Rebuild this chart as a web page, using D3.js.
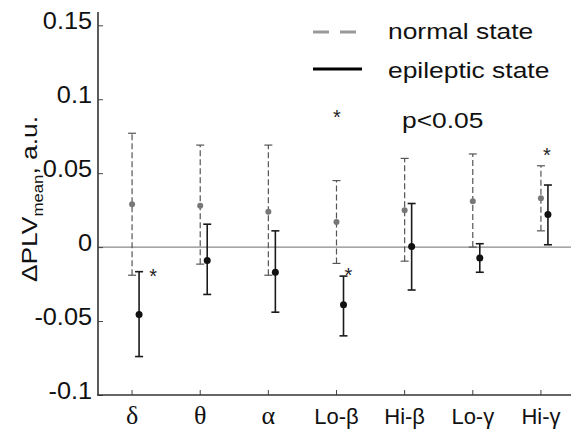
<!DOCTYPE html>
<html>
<head>
<meta charset="utf-8">
<script src="https://cdn.jsdelivr.net/npm/d3@7"></script>
<style>
  body { margin: 0; background: #fff; }
  svg { display: block; font-family: 'Liberation Sans', Arial, sans-serif; }
</style>
</head>
<body>
<div class="svg-container"></div>
<script>
// frequency bands on the x axis
var bands = ['δ', 'θ', 'α', 'Lo-β', 'Hi-β', 'Lo-γ', 'Hi-γ'];

// normal state: mean and error bar ends
var normalMean = [0.029, 0.028, 0.024, 0.017, 0.025, 0.031, 0.033];
var normalLow  = [-0.019, -0.0115, -0.019, -0.011, -0.0095, 0.0, 0.011];
var normalHigh = [0.077, 0.069, 0.069, 0.045, 0.060, 0.063, 0.055];

// epileptic state: mean and error bar ends
var epiMean = [-0.0455, -0.009, -0.017, -0.039, 0.0005, -0.0074, 0.022];
var epiLow  = [-0.074, -0.032, -0.044, -0.060, -0.029, -0.017, 0.0016];
var epiHigh = [-0.0166, 0.0155, 0.011, -0.0196, 0.0295, 0.0023, 0.042];

// bands marked significant (p<0.05)
var sigBands = ['δ', 'Lo-β', 'Hi-γ'];

var yTicks = [-0.1, -0.05, 0, 0.05, 0.1, 0.15];
var yTickLabels = ['-0.1', '-0.05', '0', '0.05', '0.1', '0.15'];

var W = 571, H = 436;

var svg = d3.select('.svg-container').append('svg')
  .attr('width', W)
  .attr('height', H);

var x = d3.scaleBand()
  .domain(bands)
  .range([98, 575])
  .padding(0);

var y = d3.scaleLinear()
  .domain([-0.1, 0.159])
  .range([395, 12]);

function cx(b) { return x(b) + x.bandwidth() / 2; }

var epiShift = 7;

// zero line
svg.append('line')
  .attr('x1', 98).attr('x2', W)
  .attr('y1', y(0)).attr('y2', y(0))
  .style('stroke', '#8a8a8a')
  .style('stroke-width', 1.2);

// y axis
var yAxis = svg.append('g')
  .attr('transform', 'translate(98,0)')
  .call(d3.axisLeft(y)
    .tickValues(yTicks)
    .tickSize(-5)
    .tickPadding(6)
    .tickFormat(function (d, i) { return yTickLabels[i]; }));

yAxis.select('.domain').remove();
yAxis.selectAll('.tick line').style('stroke', '#444');
yAxis.selectAll('text')
  .style('font-size', '23px')
  .style('fill', '#111')
  .attr('x', -6 / 1.1)
  .attr('y', -4)
  .attr('transform', 'scale(1.1,1)');

// x axis
var xAxis = svg.append('g')
  .attr('transform', 'translate(0,395)')
  .call(d3.axisBottom(x)
    .tickSize(-5)
    .tickPadding(13));

xAxis.select('.domain').remove();
xAxis.selectAll('.tick line').style('stroke', '#444');
xAxis.selectAll('text')
  .style('fill', '#111')
  .style('font-size', function (d) { return d.length === 1 ? '26px' : '22px'; })
  .style('font-family', function (d) {
    return d.length === 1 ? "'Liberation Serif', serif" : "'Liberation Sans', Arial, sans-serif";
  })
  .attr('y', function (d) { return d.length === 1 ? 11 : 13; });

// axis lines
svg.append('line')
  .attr('x1', 98).attr('x2', 98)
  .attr('y1', y(0.159)).attr('y2', 395)
  .style('stroke', '#333').style('stroke-width', 1.6);
svg.append('line')
  .attr('x1', 97).attr('x2', W)
  .attr('y1', 395).attr('y2', 395)
  .style('stroke', '#333').style('stroke-width', 1.6);

// y label
var ylab = svg.append('text')
  .attr('transform', 'translate(37,199) rotate(-90) scale(1.2,1)')
  .attr('text-anchor', 'middle')
  .style('font-size', '22px')
  .style('fill', '#111');
ylab.append('tspan').text('ΔPLV');
ylab.append('tspan').attr('dy', 6).style('font-size', '14px').text('mean');
ylab.append('tspan').attr('dy', -6).text(', a.u.');

// error bars
function drawBars(cls, means, lows, highs, shift, opts) {
  var rows = bands.map(function (b, i) {
    return { band: b, mean: means[i], low: lows[i], high: highs[i] };
  });

  var g = svg.selectAll('g.' + cls)
    .data(rows)
    .enter()
    .append('g')
    .attr('class', cls)
    .attr('transform', function (d) { return 'translate(' + (cx(d.band) + shift) + ',0)'; });

  g.append('line')
    .attr('y1', function (d) { return y(d.low); })
    .attr('y2', function (d) { return y(d.high); })
    .style('stroke', opts.color)
    .style('stroke-width', opts.width)
    .style('stroke-dasharray', opts.dash);

  ['low', 'high'].forEach(function (k) {
    g.append('line')
      .attr('x1', -4).attr('x2', 4)
      .attr('y1', function (d) { return y(d[k]); })
      .attr('y2', function (d) { return y(d[k]); })
      .style('stroke', opts.color)
      .style('stroke-width', opts.width);
  });

  g.append('circle')
    .attr('cy', function (d) { return y(d.mean); })
    .attr('r', opts.r)
    .style('fill', opts.dot);
}

drawBars('normal', normalMean, normalLow, normalHigh, 0,
  { color: '#555', width: 1.2, dash: '6,3', r: 3, dot: '#777' });
drawBars('epi', epiMean, epiLow, epiHigh, epiShift,
  { color: '#1a1a1a', width: 1.6, dash: null, r: 3.5, dot: '#111' });

// significance stars
var starPlace = {
  'δ':    { dx: 21, v: function (i) { return y(epiHigh[i]); } },
  'Lo-β': { dx: 12, v: function (i) { return y(epiHigh[i]) - 5; } },
  'Hi-γ': { dx: 6,  v: function (i) { return y(normalHigh[i]) - 15; } }
};
svg.selectAll('.star')
  .data(sigBands)
  .enter()
  .append('text')
  .attr('class', 'star')
  .attr('text-anchor', 'middle')
  .attr('x', function (d) { return cx(d) + starPlace[d].dx; })
  .attr('y', function (d) { return starPlace[d].v(bands.indexOf(d)) + 11; })
  .style('font-size', '20px')
  .style('fill', '#222')
  .text('*');

// legend
var leg = svg.append('g');
leg.append('line')
  .attr('x1', 313).attr('x2', 356).attr('y1', 32).attr('y2', 32)
  .style('stroke', '#999').style('stroke-width', 3)
  .style('stroke-dasharray', '16,11');
leg.append('line')
  .attr('x1', 313).attr('x2', 362).attr('y1', 69).attr('y2', 69)
  .style('stroke', '#000').style('stroke-width', 3);
leg.append('text')
  .attr('text-anchor', 'middle')
  .attr('x', 337).attr('y', 124)
  .style('font-size', '20px').style('fill', '#222')
  .text('*');

var legTexts = [['normal state', 388, 39], ['epileptic state', 388, 78], ['p<0.05', 402, 128]];
leg.selectAll('.legtext')
  .data(legTexts)
  .enter()
  .append('text')
  .attr('class', 'legtext')
  .attr('transform', function (d) { return 'translate(' + d[1] + ',' + d[2] + ') scale(1.2,1)'; })
  .style('font-size', '22px')
  .style('fill', '#111')
  .text(function (d) { return d[0]; });
</script>
</body>
</html>
